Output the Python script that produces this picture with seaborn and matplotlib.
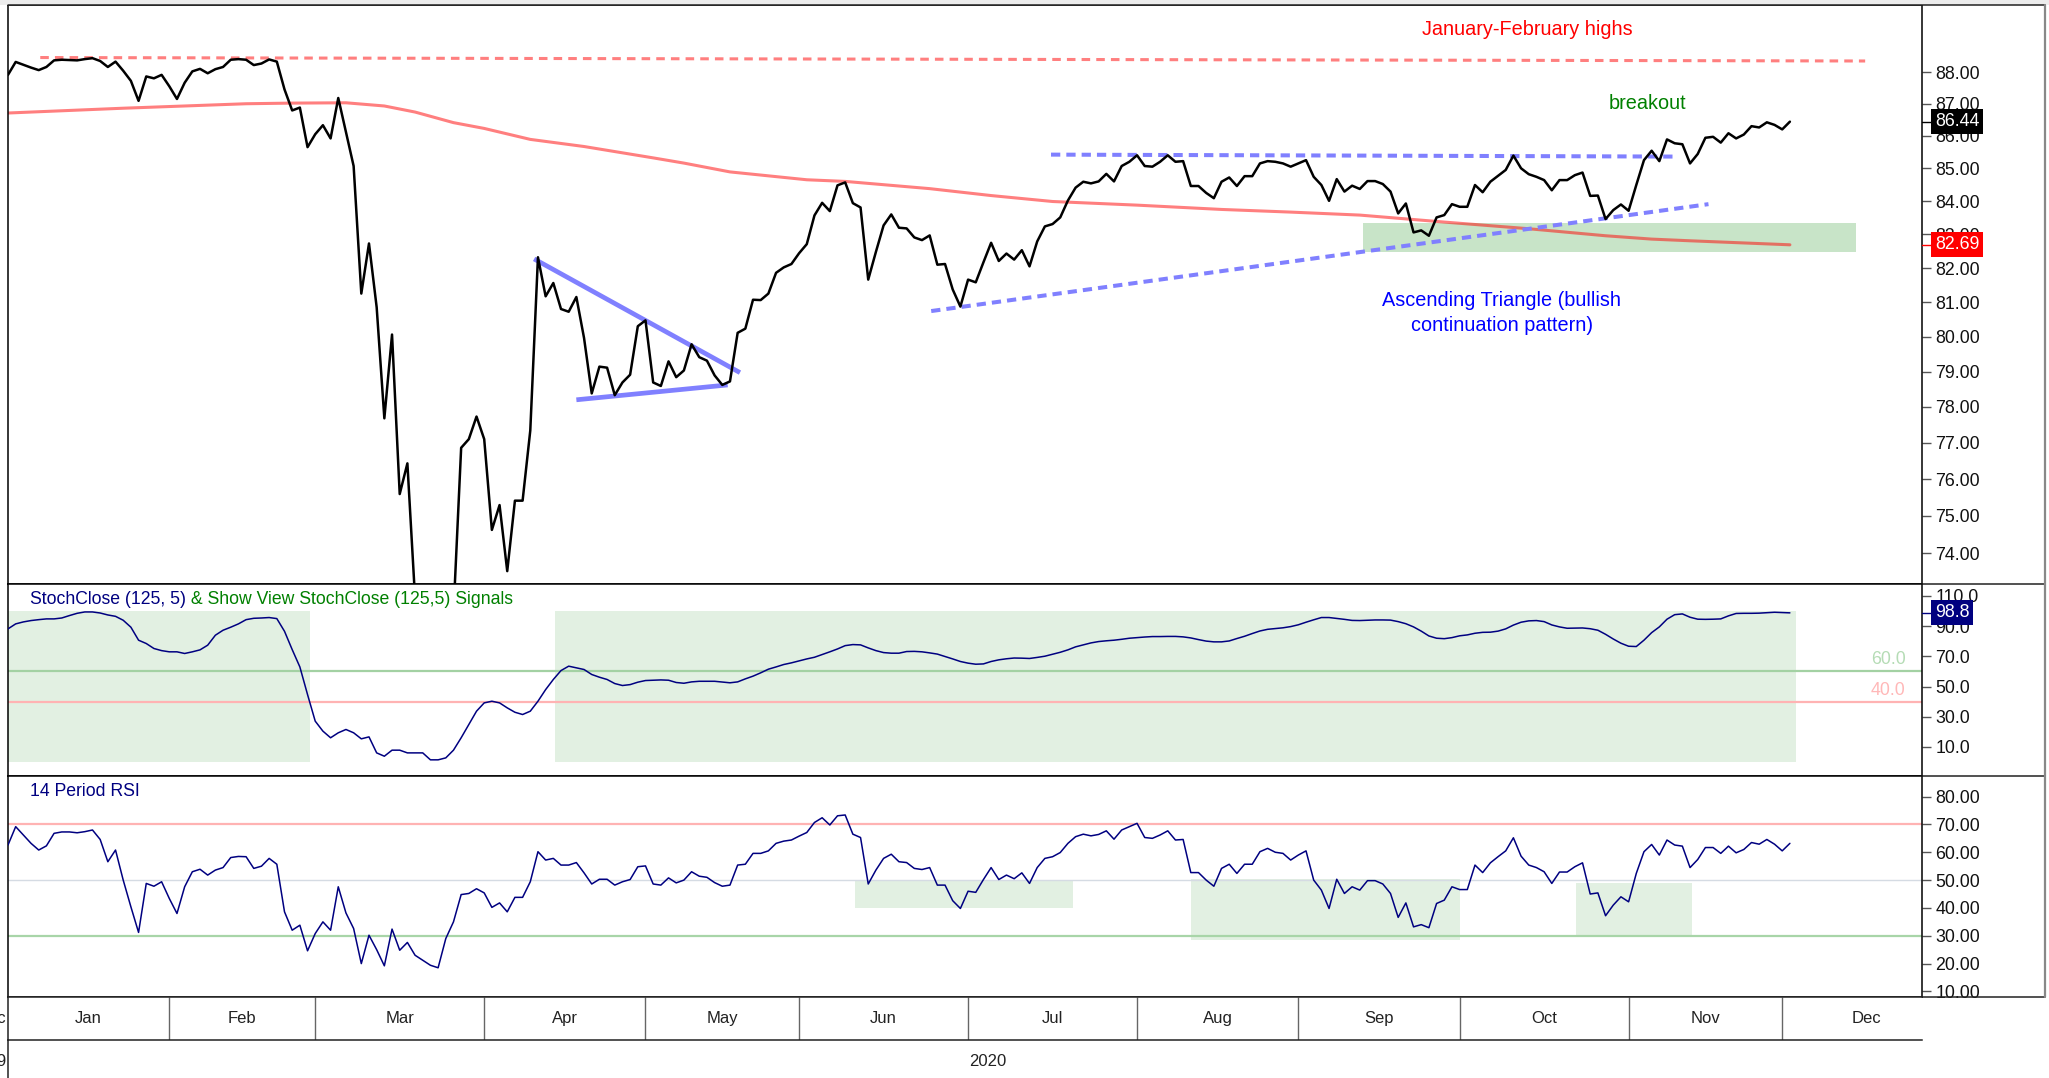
import numpy as np
import pandas as pd
import matplotlib
matplotlib.use("Agg")
import matplotlib.pyplot as plt
import matplotlib.ticker as mticker
import matplotlib.transforms as mtransforms
from matplotlib.lines import Line2D
from matplotlib.patches import Rectangle
import seaborn as sns

# ---------------- data ----------------
holidays_2020 = ["2020-01-01", "2020-01-20", "2020-02-17", "2020-04-10", "2020-05-25",
                 "2020-07-03", "2020-09-07", "2020-11-26", "2020-12-25"]

price_close = [
    87.91, 88.32, 88.23, 88.14, 88.06, 88.16, 88.37, 88.39, 88.38, 88.37,
    88.41, 88.44, 88.35, 88.16, 88.33, 88.04, 87.72, 87.09, 87.86, 87.80,
    87.91, 87.55, 87.15, 87.66, 88.02, 88.10, 87.96, 88.09, 88.16, 88.39,
    88.41, 88.39, 88.22, 88.27, 88.40, 88.33, 87.45, 86.79, 86.88, 85.65,
    86.05, 86.33, 85.92, 87.18, 86.12, 85.07, 81.25, 82.73, 80.85, 77.68,
    80.06, 75.59, 76.43, 72.80, 70.00, 68.50, 69.50, 70.60, 72.40, 76.86,
    77.10, 77.73, 77.10, 74.62, 75.29, 73.52, 75.41, 75.41, 77.34, 82.32,
    81.17, 81.56, 80.80, 80.72, 81.15, 79.96, 78.38, 79.14, 79.11, 78.33,
    78.69, 78.91, 80.30, 80.47, 78.69, 78.59, 79.29, 78.84, 79.03, 79.78,
    79.41, 79.31, 78.89, 78.62, 78.72, 80.11, 80.23, 81.07, 81.06, 81.25,
    81.86, 82.02, 82.12, 82.44, 82.71, 83.57, 83.95, 83.70, 84.48, 84.57,
    83.94, 83.81, 81.66, 82.48, 83.27, 83.60, 83.20, 83.18, 82.91, 82.83,
    82.97, 82.10, 82.12, 81.37, 80.87, 81.66, 81.58, 82.17, 82.75, 82.21,
    82.43, 82.25, 82.53, 82.05, 82.79, 83.24, 83.31, 83.51, 84.02, 84.41,
    84.59, 84.54, 84.60, 84.83, 84.60, 85.07, 85.20, 85.40, 85.07, 85.05,
    85.20, 85.40, 85.20, 85.22, 84.46, 84.46, 84.25, 84.09, 84.59, 84.72,
    84.46, 84.76, 84.76, 85.15, 85.22, 85.20, 85.15, 85.05, 85.15, 85.25,
    84.74, 84.49, 84.01, 84.67, 84.29, 84.47, 84.37, 84.61, 84.61, 84.52,
    84.29, 83.63, 83.93, 83.06, 83.12, 82.96, 83.51, 83.58, 83.91, 83.83,
    83.83, 84.49, 84.27, 84.59, 84.77, 84.95, 85.39, 85.00, 84.82, 84.74,
    84.64, 84.33, 84.64, 84.64, 84.79, 84.87, 84.16, 84.17, 83.46, 83.73,
    83.90, 83.71, 84.49, 85.25, 85.54, 85.22, 85.89, 85.77, 85.74, 85.15,
    85.44, 85.94, 85.97, 85.79, 86.08, 85.92, 86.04, 86.30, 86.26, 86.42,
    86.34, 86.20, 86.44,
]

# 200-day moving average, sampled at these trading-day numbers
ma_days = [0, 15, 31, 37, 44, 49, 53, 58, 62, 68, 75, 84, 88, 94, 104, 109, 120,
           128, 136, 147, 158, 167, 176, 187, 198, 208, 214, 219, 232]
ma_values = [86.71, 86.86, 87.00, 87.02, 87.03, 86.93, 86.74, 86.41, 86.23, 85.89,
             85.67, 85.32, 85.16, 84.89, 84.65, 84.60, 84.38, 84.17, 83.99, 83.88,
             83.75, 83.67, 83.58, 83.37, 83.17, 82.96, 82.86, 82.81, 82.69]

stoch_close = [
    88.2, 91.5, 92.8, 93.7, 94.3, 94.8, 94.8, 95.4, 97.0, 98.5,
    99.4, 99.4, 98.7, 97.4, 96.5, 93.9, 89.3, 80.7, 78.5, 75.2,
    73.8, 73.0, 73.0, 71.9, 73.0, 74.3, 77.4, 84.0, 87.3, 89.3,
    91.5, 94.3, 95.2, 95.4, 95.7, 95.0, 86.6, 74.5, 63.0, 44.7,
    27.1, 20.5, 16.1, 19.4, 21.6, 19.4, 15.4, 16.7, 6.1, 3.9,
    7.9, 7.9, 6.1, 6.1, 6.1, 1.5, 1.5, 2.8, 7.9, 16.1,
    24.9, 33.7, 39.2, 40.3, 39.2, 35.9, 33.0, 31.5, 33.7, 40.3,
    48.0, 54.7, 60.6, 63.5, 62.4, 61.3, 58.0, 56.2, 54.7, 52.0,
    50.7, 51.3, 52.9, 54.0, 54.2, 54.4, 54.2, 52.7, 52.2, 53.1,
    53.5, 53.5, 53.5, 53.0, 52.5, 53.1, 55.1, 56.9, 59.1, 61.5,
    63.0, 64.6, 65.7, 67.0, 68.3, 69.4, 71.2, 73.0, 74.9, 77.1,
    77.8, 77.6, 75.6, 73.8, 72.5, 72.1, 72.1, 73.2, 73.3, 73.0,
    72.3, 71.5, 69.9, 68.3, 66.6, 65.5, 64.8, 65.0, 66.6, 67.7,
    68.4, 68.9, 68.8, 68.6, 69.3, 70.1, 71.4, 72.7, 74.3, 76.3,
    77.6, 78.9, 79.8, 80.3, 80.7, 81.3, 82.0, 82.4, 82.8, 83.1,
    83.1, 83.2, 83.2, 82.9, 82.2, 81.1, 80.1, 79.6, 79.6, 80.2,
    81.8, 83.3, 85.1, 86.8, 87.9, 88.4, 88.9, 89.7, 90.9, 92.6,
    94.2, 95.7, 95.7, 95.1, 94.5, 93.8, 93.7, 93.9, 94.1, 94.1,
    94.0, 93.0, 91.6, 89.5, 86.7, 83.5, 82.0, 81.7, 82.4, 83.6,
    84.2, 85.3, 85.9, 86.0, 86.7, 88.2, 90.7, 92.6, 93.5, 93.7,
    93.0, 90.8, 89.5, 88.6, 88.7, 88.8, 88.3, 87.3, 84.6, 81.5,
    78.7, 76.7, 76.5, 80.7, 85.7, 89.5, 94.6, 97.6, 98.1, 95.9,
    94.6, 94.5, 94.6, 94.8, 96.8, 98.4, 98.5, 98.5, 98.6, 98.9,
    99.2, 99.0, 98.8,
]

rsi_14 = [
    62.6, 69.2, 66.2, 63.2, 60.8, 62.3, 66.8, 67.3, 67.3, 67.0,
    67.4, 68.0, 64.6, 56.6, 60.8, 50.0, 40.4, 31.2, 48.8, 47.8,
    49.4, 43.4, 38.0, 47.6, 53.0, 53.9, 51.8, 53.6, 54.5, 58.1,
    58.5, 58.4, 54.2, 55.0, 57.8, 55.7, 38.6, 32.0, 33.8, 24.6,
    30.8, 35.0, 32.0, 47.6, 38.2, 32.6, 20.0, 30.2, 25.0, 19.2,
    32.4, 24.8, 27.6, 23.0, 21.2, 19.4, 18.5, 29.0, 35.0, 44.8,
    45.2, 46.9, 45.4, 40.2, 41.8, 38.6, 43.8, 43.8, 49.4, 60.2,
    57.2, 57.8, 55.4, 55.4, 56.3, 52.6, 48.6, 50.3, 50.3, 48.2,
    49.4, 50.2, 54.8, 55.1, 48.6, 48.2, 50.8, 49.0, 50.0, 53.0,
    51.4, 51.0, 49.1, 47.8, 48.2, 55.4, 55.7, 59.6, 59.6, 60.5,
    63.2, 64.0, 64.4, 65.8, 67.1, 70.7, 72.4, 69.8, 73.1, 73.4,
    66.5, 65.3, 48.6, 53.6, 57.8, 59.3, 56.6, 56.3, 54.2, 53.8,
    54.5, 48.2, 48.2, 42.6, 39.8, 46.0, 45.6, 50.2, 54.5, 50.2,
    51.8, 50.5, 52.6, 48.8, 54.5, 57.8, 58.4, 59.9, 63.2, 65.6,
    66.5, 65.9, 66.4, 67.7, 64.7, 68.0, 69.2, 70.4, 65.3, 65.0,
    66.2, 67.7, 64.4, 64.6, 52.7, 52.7, 50.0, 47.8, 54.2, 55.7,
    52.4, 55.7, 55.7, 60.2, 61.4, 60.0, 59.6, 57.2, 59.0, 60.5,
    50.0, 46.4, 39.8, 50.3, 45.2, 47.6, 46.4, 49.8, 49.8, 48.6,
    45.2, 36.6, 41.8, 33.2, 34.0, 32.9, 41.6, 42.8, 47.6, 46.6,
    46.6, 55.4, 52.7, 56.2, 58.4, 60.5, 65.2, 58.6, 55.4, 54.5,
    53.0, 48.8, 52.9, 52.9, 54.8, 56.2, 45.0, 45.4, 37.2, 41.0,
    44.0, 42.2, 52.4, 60.2, 62.8, 59.0, 64.4, 62.6, 62.2, 54.5,
    57.4, 61.7, 61.7, 59.6, 62.2, 59.8, 61.0, 63.5, 62.9, 64.6,
    62.9, 60.5, 63.2,
]

# chart annotations (trading-day number, price)
highs_line_x = [4.2, 241.8]
highs_line_y = [88.46, 88.35]
tri_upper_x = [68.5, 95.3]
tri_upper_y = [82.27, 78.97]
tri_lower_x = [74.0, 93.7]
tri_lower_y = [78.20, 78.62]
resistance_x = [135.8, 217.0]
resistance_y = [85.42, 85.36]
support_x = [120.2, 221.4]
support_y = [80.74, 83.91]
support_zone_x = [176.4, 240.6]
support_zone_y = [82.47, 83.34]

# StochClose signal periods (trading-day spans)
stoch_signal_spans = [(0.0, 39.3), (71.2, 232.8)]
# RSI pullback zones: (start day, end day, low, high)
rsi_zones = [(110.3, 138.6, 40.0, 50.0), (154.0, 189.1, 28.6, 50.3), (204.1, 219.3, 30.0, 49.0)]

last_close = 86.44
last_ma = 82.69
last_stoch = 98.8

for name, arr in [("price", price_close), ("stoch", stoch_close), ("rsi", rsi_14)]:
    if len(arr) != 233:
        raise ValueError(f"{name} has {len(arr)} values")

# ---------------- calendar ----------------
calendar = pd.bdate_range("2020-01-02", "2020-12-31", freq="C", holidays=holidays_2020)
n = len(price_close)
day_idx = np.arange(n)
months = calendar.to_period("M")
month_starts = [int(np.argmax(months == m)) for m in months.unique()]
month_lengths = [int((months == m).sum()) for m in months.unique()]
month_names = [m.strftime("%b") for m in months.unique()]

df = pd.DataFrame({"day": day_idx, "close": price_close, "stoch": stoch_close, "rsi": rsi_14})

# ---------------- style ----------------
sns.set_style("white")
plt.rcParams["font.family"] = ["Liberation Sans", "DejaVu Sans"]

W, H = 2049, 1078
fig = plt.figure(figsize=(W / 100, H / 100), dpi=100, facecolor="white")


def fx(px):
    return px / W


def fy(py):
    return 1 - py / H


L, R = 8, 1922
XMAX = 249.2
ax_p = fig.add_axes([fx(L), fy(584), (R - L) / W, (584 - 5) / H])
ax_s = fig.add_axes([fx(L), fy(776), (R - L) / W, (776 - 584) / H])
ax_r = fig.add_axes([fx(L), fy(997), (R - L) / W, (997 - 776) / H])
ax_m = fig.add_axes([fx(L), fy(1040), (R - L) / W, (1040 - 997) / H])

TICK_FS = 12.8
LABEL_FS = 12.7
NOTE_FS = 14.3


def style_panel(ax, ylim, ticks, fmt, log=False):
    if log:
        ax.set_yscale("log")
    ax.set_xlim(0, XMAX)
    ax.set_ylim(*ylim)
    ax.set_xticks([])
    ax.yaxis.tick_right()
    ax.yaxis.set_major_locator(mticker.FixedLocator(ticks))
    ax.yaxis.set_major_formatter(mticker.FormatStrFormatter(fmt))
    ax.yaxis.set_minor_locator(mticker.NullLocator())
    ax.yaxis.set_minor_formatter(mticker.NullFormatter())
    ax.tick_params(axis="y", which="major", direction="out", length=6.5, width=1.0,
                   color="#555555", labelsize=TICK_FS, labelcolor="#111111", pad=3)
    ax.set_xlabel("")
    ax.set_ylabel("")
    for s in ax.spines.values():
        s.set_color("black")
        s.set_linewidth(1.1)


# ---------------- price panel ----------------
ax_p.fill_between(support_zone_x, support_zone_y[0], support_zone_y[1],
                  color="#c8e4c8", lw=0, zorder=1)
sns.lineplot(x=ma_days, y=ma_values, ax=ax_p, color="red", alpha=0.5, lw=2.2, zorder=2)
ax_p.plot(highs_line_x, highs_line_y, color="#ff7f7f", lw=2.2, ls=(0, (2.8, 2.0)), zorder=2)
ax_p.plot(tri_upper_x, tri_upper_y, color="#8080ff", lw=3.4, solid_capstyle="butt", zorder=3)
ax_p.plot(tri_lower_x, tri_lower_y, color="#8080ff", lw=3.4, solid_capstyle="butt", zorder=3)
ax_p.plot(resistance_x, resistance_y, color="#8080ff", lw=2.9, ls=(0, (2.3, 1.5)), zorder=3)
ax_p.plot(support_x, support_y, color="#8080ff", lw=2.9, ls=(0, (2.3, 1.5)), zorder=3)
sns.lineplot(data=df, x="day", y="close", ax=ax_p, color="black", lw=1.8, zorder=5)
style_panel(ax_p, (73.18, 90.15), list(range(74, 89)), "%.2f", log=True)

ax_p.text(197.8, 89.37, "January-February highs", color="#ff0000", fontsize=NOTE_FS,
          ha="center", va="center")
ax_p.text(213.4, 87.0, "breakout", color="#008000", fontsize=NOTE_FS, ha="center", va="center")
ax_p.text(194.5, 80.68, "Ascending Triangle (bullish\ncontinuation pattern)", color="#0000ff",
          fontsize=NOTE_FS, ha="center", va="center", linespacing=1.4, multialignment="center")

# ---------------- stochastic panel ----------------
for s0, s1 in stoch_signal_spans:
    ax_s.fill_between([s0, s1], 0, 100, color="#e2f0e2", lw=0, zorder=1)
ax_s.axhline(60, color="#a3d1a3", lw=1.6, zorder=2)
ax_s.axhline(40, color="#ffb3b3", lw=1.6, zorder=2)
sns.lineplot(data=df, x="day", y="stoch", ax=ax_s, color="#000080", lw=1.1, zorder=4)
style_panel(ax_s, (-9.2, 117.9), [-10, 10, 30, 50, 70, 90, 110], "%.1f")
ax_s.text(247.1, 62, "60.0", color="#b5dcb5", fontsize=TICK_FS, ha="right", va="bottom")
ax_s.text(247.1, 42, "40.0", color="#ffb8b8", fontsize=TICK_FS, ha="right", va="bottom")
t1 = ax_s.text(22 / 1914, 1 - 15 / 192, "StochClose (125, 5)", color="#000080",
               fontsize=LABEL_FS, transform=ax_s.transAxes, ha="left", va="center")
ax_s.annotate(" & Show View StochClose (125,5) Signals", xy=(1, 0), xycoords=t1,
              color="#008000", fontsize=LABEL_FS, ha="left", va="bottom")

# ---------------- RSI panel ----------------
for x0, x1, lo, hi in rsi_zones:
    ax_r.fill_between([x0, x1], lo, hi, color="#e2f0e2", lw=0, zorder=1)
ax_r.axhline(70, color="#ffb3b3", lw=1.6, zorder=2)
ax_r.axhline(50, color="#d5dbe3", lw=1.0, zorder=2)
ax_r.axhline(30, color="#a8d5a8", lw=1.6, zorder=2)
sns.lineplot(data=df, x="day", y="rsi", ax=ax_r, color="#000080", lw=1.1, zorder=4)
style_panel(ax_r, (8.0, 87.4), list(range(10, 81, 10)), "%.2f")
ax_r.text(22 / 1914, 1 - 15 / 221, "14 Period RSI", color="#000080", fontsize=LABEL_FS,
          transform=ax_r.transAxes, ha="left", va="center")

# ---------------- value flags on the right scale ----------------
def value_flag(ax, value, text, face):
    tr = mtransforms.blended_transform_factory(ax.transAxes, ax.transData)
    ax.plot([1.0, 1.0 + 9 / 1914], [value, value], color=face, lw=1.0,
            transform=tr, clip_on=False, zorder=6)
    ax.text(1.0 + 13 / 1914, value, text, transform=tr, ha="left", va="center",
            color="white", fontsize=TICK_FS, clip_on=False, zorder=7,
            bbox=dict(boxstyle="square,pad=0.22", facecolor=face, edgecolor="none"))


value_flag(ax_p, last_close, f"{last_close:.2f}", "black")
value_flag(ax_p, last_ma, f"{last_ma:.2f}", "#ff0000")
value_flag(ax_s, last_stoch, f"{last_stoch:.1f}", "#000080")

# ---------------- month strip ----------------
ax_m.set_xlim(0, XMAX)
ax_m.set_ylim(0, 1)
ax_m.set_xticks([])
ax_m.set_yticks([])
ax_m.spines["right"].set_visible(False)
for side in ["top", "bottom", "left"]:
    ax_m.spines[side].set_color("#222222")
    ax_m.spines[side].set_linewidth(1.1)
ax_m.vlines(month_starts[1:], 0, 1, color="#666666", lw=1.0)
for start, length, name in zip(month_starts, month_lengths, month_names):
    ax_m.text(start + length / 2, 0.5, name, ha="center", va="center", fontsize=12,
              color="#222222")
ax_m.text(-0.25, 0.5, "Dec", ha="right", va="center", fontsize=12, color="#222222",
          clip_on=False)
tr_m = mtransforms.blended_transform_factory(ax_m.transData, ax_m.transAxes)
ax_m.text(127.5, -0.49, "2020", transform=tr_m, ha="center", va="center", fontsize=12,
          color="#222222", clip_on=False)
ax_m.text(-0.25, -0.49, "2019", transform=tr_m, ha="right", va="center", fontsize=12,
          color="#222222", clip_on=False)

# ---------------- frame around the right scale ----------------
fig.add_artist(Rectangle((0, fy(5)), 1, 5 / H, transform=fig.transFigure,
                         facecolor="#ececec", edgecolor="none"))
frame = dict(transform=fig.transFigure, color="#222222", lw=1.1)
fig.add_artist(Line2D([fx(L), fx(2045)], [fy(5), fy(5)], **frame))
for yy in (584, 776, 997):
    fig.add_artist(Line2D([fx(R), fx(2045)], [fy(yy), fy(yy)], **frame))
fig.add_artist(Line2D([fx(2045), fx(2045)], [fy(5), fy(997)], transform=fig.transFigure,
                      color="#888888", lw=1.6))
fig.add_artist(Line2D([fx(L), fx(L)], [fy(1040), fy(1078)], **frame))

fig.savefig("out.png", dpi=100, facecolor="white")
